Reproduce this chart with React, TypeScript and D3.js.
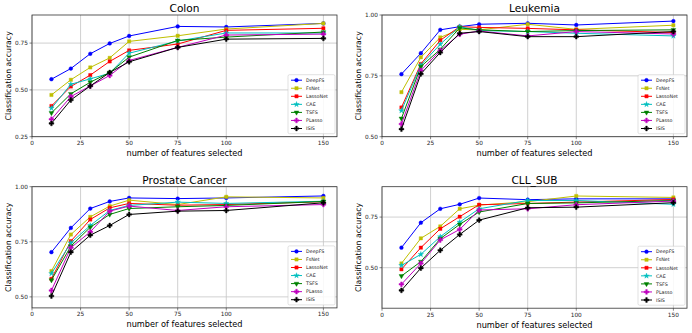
import React from "react";
import * as d3 from "d3";

const featureCounts = [10, 20, 30, 40, 50, 75, 100, 150];
const xTicks = [0, 25, 50, 75, 100, 150];
const methods = ["DeepFS", "FsNet", "LassoNet", "CAE", "TSFS", "PLasso", "ISIS"];
const methodColors = ["#0000ff", "#bfbf00", "#ff0000", "#00bfbf", "#008000", "#bf00bf", "#000000"];
const methodMarkers = ["circle", "square", "square", "star", "triangleDown", "cross", "cross"];

const colonDeepFS = [0.557, 0.614, 0.693, 0.748, 0.788, 0.839, 0.836, 0.855];
const colonFsNet = [0.473, 0.554, 0.62, 0.671, 0.759, 0.789, 0.825, 0.855];
const colonLassoNet = [0.414, 0.518, 0.579, 0.652, 0.711, 0.745, 0.818, 0.829];
const colonCAE = [0.402, 0.53, 0.559, 0.589, 0.696, 0.761, 0.804, 0.804];
const colonTSFS = [0.377, 0.479, 0.541, 0.593, 0.675, 0.764, 0.782, 0.809];
const colonPLasso = [0.343, 0.464, 0.521, 0.577, 0.657, 0.727, 0.793, 0.798];
const colonISIS = [0.321, 0.446, 0.521, 0.593, 0.65, 0.727, 0.771, 0.775];

const leukDeepFS = [0.757, 0.843, 0.939, 0.952, 0.962, 0.966, 0.959, 0.975];
const leukFsNet = [0.683, 0.826, 0.908, 0.941, 0.939, 0.962, 0.941, 0.958];
const leukLassoNet = [0.62, 0.799, 0.896, 0.952, 0.949, 0.945, 0.939, 0.928];
const leukCAE = [0.607, 0.794, 0.88, 0.952, 0.936, 0.932, 0.925, 0.914];
const leukTSFS = [0.575, 0.788, 0.859, 0.947, 0.939, 0.932, 0.936, 0.939];
const leukPLasso = [0.552, 0.772, 0.854, 0.921, 0.934, 0.914, 0.932, 0.922];
const leukISIS = [0.531, 0.758, 0.846, 0.925, 0.932, 0.911, 0.911, 0.932];

const prosDeepFS = [0.703, 0.813, 0.901, 0.933, 0.949, 0.946, 0.949, 0.958];
const prosFsNet = [0.617, 0.783, 0.863, 0.912, 0.939, 0.919, 0.954, 0.949];
const prosLassoNet = [0.582, 0.753, 0.851, 0.904, 0.924, 0.916, 0.919, 0.932];
const prosCAE = [0.606, 0.745, 0.824, 0.892, 0.915, 0.93, 0.924, 0.934];
const prosTSFS = [0.576, 0.73, 0.816, 0.874, 0.901, 0.909, 0.915, 0.933];
const prosPLasso = [0.529, 0.723, 0.795, 0.889, 0.912, 0.892, 0.909, 0.919];
const prosISIS = [0.504, 0.703, 0.78, 0.824, 0.874, 0.889, 0.892, 0.927];

const cllDeepFS = [0.599, 0.722, 0.791, 0.813, 0.844, 0.836, 0.84, 0.84];
const cllFsNet = [0.521, 0.645, 0.704, 0.791, 0.809, 0.826, 0.854, 0.847];
const cllLassoNet = [0.492, 0.599, 0.692, 0.752, 0.811, 0.817, 0.824, 0.837];
const cllCAE = [0.511, 0.566, 0.653, 0.725, 0.791, 0.832, 0.832, 0.813];
const cllTSFS = [0.459, 0.53, 0.643, 0.714, 0.775, 0.817, 0.82, 0.832];
const cllPLasso = [0.418, 0.521, 0.637, 0.689, 0.785, 0.791, 0.811, 0.829];
const cllISIS = [0.388, 0.498, 0.586, 0.664, 0.735, 0.796, 0.799, 0.821];

const FONT = "DejaVu Sans, sans-serif";

function markerPath(kind: string, size: number) {
  let sym: d3.SymbolType = d3.symbolCircle;
  if (kind === "square") sym = d3.symbolSquare;
  else if (kind === "star") sym = d3.symbolStar;
  else if (kind === "triangleDown") sym = d3.symbolTriangle;
  else if (kind === "cross") sym = d3.symbolCross;
  return d3.symbol().type(sym).size(size)() as string;
}

function Marker({ kind, color, x, y }: { kind: string; color: string; x: number; y: number }) {
  const size = kind === "circle" ? 11 : kind === "square" ? 11 : kind === "star" ? 9 : kind === "cross" ? 13 : 10;
  const rot = kind === "triangleDown" ? " rotate(180)" : "";
  return <path d={markerPath(kind, size)} transform={`translate(${x},${y})${rot}`} fill={color} stroke={color} strokeWidth={0.4} />;
}

type PanelProps = {
  title: string;
  left: number;
  top: number;
  width: number;
  height: number;
  yDomain: [number, number];
  yTicks: number[];
  series: number[][];
};

function Panel({ title, left, top, width, height, yDomain, yTicks, series }: PanelProps) {
  const x = d3.scaleLinear().domain([0, 157]).range([left, left + width]);
  const y = d3.scaleLinear().domain(yDomain).range([top + height, top]);
  const line = d3
    .line<number>()
    .x((_, i) => x(featureCounts[i]))
    .y((d) => y(d));
  const legW = 47;
  const legH = 59;
  const legX = left + width - legW - 2;
  const legY = top + height - legH - 3;
  return (
    <g>
      {xTicks.map((t) => (
        <line key={"gx" + t} x1={x(t)} x2={x(t)} y1={top} y2={top + height} stroke="#c4c4c4" strokeWidth={0.8} />
      ))}
      {yTicks.map((t) => (
        <line key={"gy" + t} x1={left} x2={left + width} y1={y(t)} y2={y(t)} stroke="#c4c4c4" strokeWidth={0.8} />
      ))}
      {series.map((vals, si) => (
        <g key={"s" + si}>
          <path d={line(vals) as string} fill="none" stroke={methodColors[si]} strokeWidth={1} />
          {vals.map((v, i) => (
            <Marker key={i} kind={methodMarkers[si]} color={methodColors[si]} x={x(featureCounts[i])} y={y(v)} />
          ))}
        </g>
      ))}
      <rect x={left} y={top} width={width} height={height} fill="none" stroke="#333" strokeWidth={0.8} />
      {xTicks.map((t) => (
        <g key={"xt" + t}>
          <line x1={x(t)} x2={x(t)} y1={top + height} y2={top + height + 2.5} stroke="#333" strokeWidth={0.6} />
          <text x={x(t)} y={top + height + 8.5} fontSize={5.8} textAnchor="middle" fontFamily={FONT} fill="#222">
            {t}
          </text>
        </g>
      ))}
      {yTicks.map((t) => (
        <g key={"yt" + t}>
          <line x1={left - 2.5} x2={left} y1={y(t)} y2={y(t)} stroke="#333" strokeWidth={0.6} />
          <text x={left - 4} y={y(t) + 2} fontSize={5.8} textAnchor="end" fontFamily={FONT} fill="#222">
            {d3.format(".2f")(t)}
          </text>
        </g>
      ))}
      <text x={left + width / 2} y={top - 3} fontSize={10.6} textAnchor="middle" fontFamily={FONT} fill="#000">
        {title}
      </text>
      <text x={left + width / 2} y={top + height + 19.5} fontSize={8.2} textAnchor="middle" fontFamily={FONT} fill="#000">
        number of features selected
      </text>
      <text
        transform={`translate(${left - 21.5},${top + height / 2}) rotate(-90)`}
        fontSize={7.8}
        textAnchor="middle"
        fontFamily={FONT}
        fill="#000"
      >
        Classification accuracy
      </text>
      <rect x={legX} y={legY} width={legW} height={legH} rx={1.5} fill="#fff" fillOpacity={0.85} stroke="#ccc" strokeWidth={0.6} />
      {methods.map((m, i) => {
        const cy = legY + 5.5 + i * 8.05;
        return (
          <g key={"l" + m}>
            <line x1={legX + 3} x2={legX + 14} y1={cy} y2={cy} stroke={methodColors[i]} strokeWidth={1} />
            <Marker kind={methodMarkers[i]} color={methodColors[i]} x={legX + 8.5} y={cy} />
            <text x={legX + 18} y={cy + 1.7} fontSize={4.8} fontFamily={FONT} fill="#222">
              {m}
            </text>
          </g>
        );
      })}
    </g>
  );
}

export default function App() {
  return (
    <svg width={692} height={333} style={{ position: "absolute", left: 0, top: 0, background: "#fff" }}>
      <rect x={0} y={0} width={692} height={333} fill="#fff" />
      <Panel
        title="Colon"
        left={32}
        top={15}
        width={305}
        height={121.7}
        yDomain={[0.25, 0.9]}
        yTicks={[0.25, 0.5, 0.75]}
        series={[colonDeepFS, colonFsNet, colonLassoNet, colonCAE, colonTSFS, colonPLasso, colonISIS]}
      />
      <Panel
        title="Leukemia"
        left={382}
        top={15}
        width={305}
        height={121.7}
        yDomain={[0.5, 1.0]}
        yTicks={[0.5, 0.75, 1.0]}
        series={[leukDeepFS, leukFsNet, leukLassoNet, leukCAE, leukTSFS, leukPLasso, leukISIS]}
      />
      <Panel
        title="Prostate Cancer"
        left={32}
        top={186.7}
        width={305}
        height={121.2}
        yDomain={[0.45, 1.0]}
        yTicks={[0.5, 0.75, 1.0]}
        series={[prosDeepFS, prosFsNet, prosLassoNet, prosCAE, prosTSFS, prosPLasso, prosISIS]}
      />
      <Panel
        title="CLL_SUB"
        left={382}
        top={186.7}
        width={305}
        height={121.5}
        yDomain={[0.3, 0.9]}
        yTicks={[0.5, 0.75]}
        series={[cllDeepFS, cllFsNet, cllLassoNet, cllCAE, cllTSFS, cllPLasso, cllISIS]}
      />
    </svg>
  );
}
